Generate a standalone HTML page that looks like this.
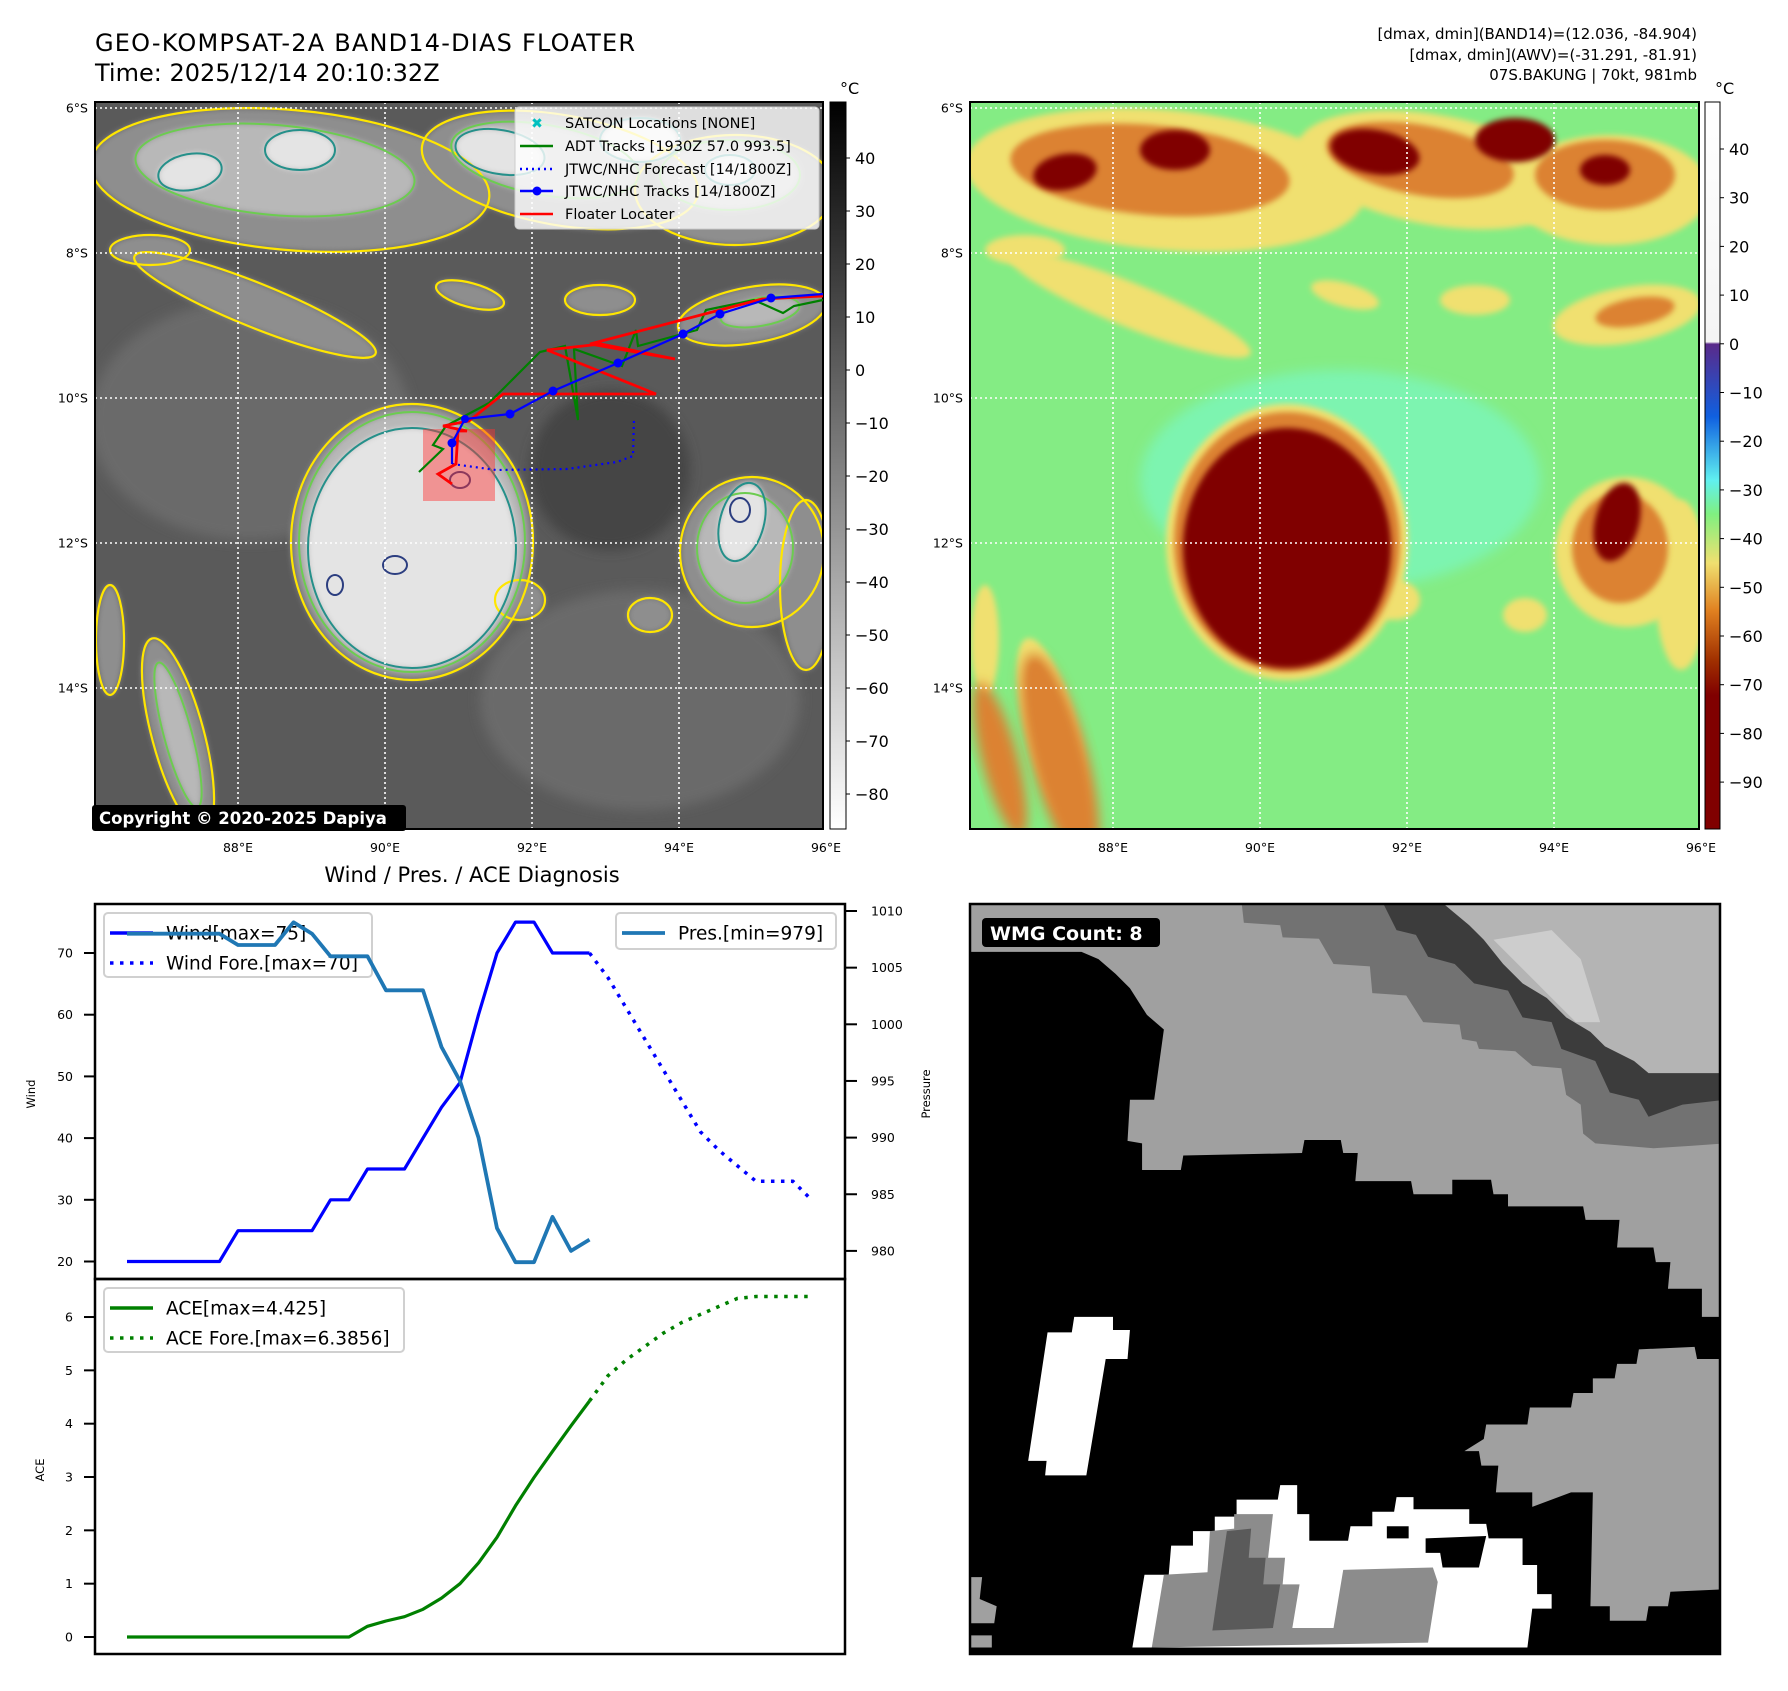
<!DOCTYPE html>
<html><head><meta charset="utf-8">
<style>
html,body{margin:0;padding:0;background:#fff;}
svg{display:block;font-family:"DejaVu Sans","Liberation Sans",sans-serif;}
</style></head>
<body>
<svg id="root" width="1788" height="1691" viewBox="0 0 1788 1691" xmlns="http://www.w3.org/2000/svg">
<defs>
  <clipPath id="clip1"><rect x="95" y="102" width="728" height="727"/></clipPath>
  <clipPath id="clip2"><rect x="970" y="102" width="729" height="727"/></clipPath>
  <clipPath id="clip3"><rect x="970" y="904" width="750" height="750"/></clipPath>
  <filter id="blur2" x="-20%" y="-20%" width="140%" height="140%"><feGaussianBlur stdDeviation="6"/></filter>
  <filter id="blur1" x="-20%" y="-20%" width="140%" height="140%"><feGaussianBlur stdDeviation="3"/></filter>
  <linearGradient id="cb1" x1="0" y1="0" x2="0" y2="1">
    <stop offset="0" stop-color="#000"/><stop offset="1" stop-color="#fff"/>
  </linearGradient>
  <linearGradient id="cb2" x1="0" y1="0" x2="0" y2="1">
    <stop offset="0" stop-color="#ffffff"/><stop offset="0.33" stop-color="#f4f4f4"/>
    <stop offset="0.333" stop-color="#5a2a8a"/><stop offset="0.433" stop-color="#1060e0"/>
    <stop offset="0.52" stop-color="#60f0f0"/><stop offset="0.567" stop-color="#80f080"/>
    <stop offset="0.634" stop-color="#f0e070"/><stop offset="0.70" stop-color="#e08020"/>
    <stop offset="0.768" stop-color="#a03000"/><stop offset="0.816" stop-color="#800000"/>
    <stop offset="1" stop-color="#800000"/>
  </linearGradient>
</defs>

<text x="95" y="51" font-size="24" textLength="540">GEO-KOMPSAT-2A BAND14-DIAS FLOATER</text>
<text x="95" y="81" font-size="24">Time: 2025/12/14 20:10:32Z</text>
<g font-size="15" text-anchor="end">
  <text x="1697" y="39">[dmax, dmin](BAND14)=(12.036, -84.904)</text>
  <text x="1697" y="60">[dmax, dmin](AWV)=(-31.291, -81.91)</text>
  <text x="1697" y="80">07S.BAKUNG | 70kt, 981mb</text>
</g>

<g clip-path="url(#clip1)">
  <rect x="95" y="102" width="728" height="727" fill="#5a5a5a"/>
  <ellipse cx="250" cy="420" rx="160" ry="120" fill="#6a6a6a" filter="url(#blur2)"/>
  <ellipse cx="640" cy="700" rx="160" ry="110" fill="#6a6a6a" filter="url(#blur2)"/>
  <ellipse cx="610" cy="470" rx="80" ry="80" fill="#444" filter="url(#blur2)"/>
  <g id="m1clouds"></g>
</g>
<g clip-path="url(#clip2)">
  <rect x="970" y="102" width="729" height="727" fill="#84ec84"/>
  <ellipse cx="1340" cy="480" rx="200" ry="110" fill="#7df4b0" filter="url(#blur2)"/>
  <g id="m2clouds"></g>
</g>
<g id="grids"></g>
<rect x="95" y="102" width="728" height="727" fill="none" stroke="#000" stroke-width="2"/>
<rect x="970" y="102" width="729" height="727" fill="none" stroke="#000" stroke-width="2"/>

<g clip-path="url(#clip1)">
  <rect x="423" y="429" width="72" height="72" fill="#ff3030" fill-opacity="0.45"/>
  <polyline fill="none" stroke="#008000" stroke-width="2.2" points="419,472 443,449 433,445 446,426 489,403 540,352 565,346 578,420 574,349 622,366 636,330 638,346 697,330 706,310 754,300 783,313 794,306 823,300"/>
  <polyline fill="none" stroke="#0000ff" stroke-width="2.2" stroke-dasharray="2,4" points="452,464 467,466 496,470 567,469 617,462 633,456 634,418"/>
  <polyline fill="none" stroke="#ff0000" stroke-width="2.8" points="452,484 438,474 456,464 458,431 467,431 443,426 469,421 503,394 656,394 547,350 601,344 675,359 590,344 762,299 823,296"/>
  <polyline fill="none" stroke="#0000ff" stroke-width="2.2" points="452,464 452,443 465,419 510,414 553,391 618,363 683,334 720,314 771,298 823,294"/>
  <g fill="#0000ff"><circle cx="452" cy="443" r="4.5"/><circle cx="465" cy="419" r="4"/><circle cx="510" cy="414" r="4.5"/><circle cx="553" cy="391" r="4.5"/><circle cx="618" cy="363" r="4.5"/><circle cx="683" cy="334" r="4.5"/><circle cx="720" cy="314" r="4.5"/><circle cx="771" cy="298" r="4.5"/></g>
</g>

<g>
  <rect x="515" y="107" width="304" height="122" rx="4" fill="#ffffff" fill-opacity="0.8" stroke="#cccccc"/>
  <g font-size="14.5" fill="#000">
    <text x="537" y="128" fill="#00c0c0" font-weight="bold" text-anchor="middle" font-size="14">✖</text>
    <text x="565" y="128">SATCON Locations [NONE]</text>
    <line x1="520" y1="146" x2="553" y2="146" stroke="#008000" stroke-width="2.5"/>
    <text x="565" y="151">ADT Tracks [1930Z 57.0 993.5]</text>
    <line x1="520" y1="169" x2="553" y2="169" stroke="#0000ff" stroke-width="2.5" stroke-dasharray="2,4"/>
    <text x="565" y="174">JTWC/NHC Forecast [14/1800Z]</text>
    <line x1="520" y1="191" x2="553" y2="191" stroke="#0000ff" stroke-width="2.5"/>
    <circle cx="537" cy="191" r="4.5" fill="#0000ff"/>
    <text x="565" y="196">JTWC/NHC Tracks [14/1800Z]</text>
    <line x1="520" y1="214" x2="553" y2="214" stroke="#ff0000" stroke-width="2.5"/>
    <text x="565" y="219">Floater Locater</text>
  </g>
</g>

<rect x="92" y="805" width="314" height="26" rx="3" fill="#000"/>
<text x="99" y="824" font-size="16.5" font-weight="bold" fill="#fff">Copyright © 2020-2025 Dapiya</text>

<rect x="830" y="102" width="16" height="727" fill="url(#cb1)" stroke="#000" stroke-width="1"/>
<text x="840" y="94" font-size="16">°C</text>
<g id="cb1ticks" font-size="16"></g>
<rect x="1705" y="102" width="15" height="727" fill="url(#cb2)" stroke="#000" stroke-width="1"/>
<text x="1715" y="94" font-size="16">°C</text>
<g id="cb2ticks" font-size="16"></g>

<text x="472" y="882" font-size="21" text-anchor="middle">Wind / Pres. / ACE Diagnosis</text>
<g id="chart"></g>

<g clip-path="url(#clip3)">
  <rect x="970" y="904" width="750" height="750" fill="#000"/>
  <g transform="translate(970,901) scale(0.4847)">
    <polygon fill="#a0a0a0" points="0,0 1560,0 1560,858 1510,858 1510,800 1440,800 1445,745 1415,745 1410,715 1335,715 1340,658 1270,658 1265,630 1110,630 1110,605 1080,605 1075,575 995,575 995,605 915,605 910,578 795,578 800,520 770,520 765,493 690,493 685,520 440,525 435,555 355,555 355,500 325,495 330,410 380,410 400,265 365,235 330,180 300,150 265,120 230,105 0,105"/>
    <polygon fill="#727272" points="560,0 1560,0 1560,500 1490,505 1410,510 1290,500 1265,480 1260,420 1230,400 1220,345 1160,340 1125,310 1050,305 1045,290 1015,285 1010,255 935,250 900,195 830,190 825,135 750,130 720,78 645,75 640,50 565,45"/>
    <polygon fill="#3c3c3c" points="850,0 1560,0 1560,410 1470,420 1400,445 1380,410 1320,395 1290,330 1220,305 1200,250 1140,240 1110,185 1040,170 1000,130 945,115 920,70 880,60"/>
    <polygon fill="#b4b4b4" points="970,0 1560,0 1560,355 1400,355 1370,330 1310,300 1280,270 1230,240 1190,200 1140,170 1100,130 1060,80 1030,50"/>
    <polygon fill="#cdcdcd" points="1080,80 1200,60 1260,120 1300,250 1250,250 1180,180"/>
    <polygon fill="#fff" points="160,890 210,890 215,858 295,858 295,885 330,885 325,945 280,945 240,1185 155,1185 158,1155 120,1155"/>
    <polygon fill="#a0a0a0" points="1020,1135 1060,1110 1065,1080 1150,1080 1155,1045 1240,1045 1245,1015 1285,1015 1285,985 1330,985 1335,955 1375,955 1380,925 1495,920 1500,945 1560,945 1560,1420 1445,1425 1440,1455 1400,1455 1395,1485 1320,1485 1320,1455 1280,1455 1285,1220 1240,1220 1160,1250 1160,1220 1085,1220 1090,1165 1055,1165 1050,1135"/>
    <polygon fill="#fff" points="335,1540 360,1390 410,1390 415,1330 460,1330 460,1300 505,1300 505,1270 550,1270 550,1235 635,1235 640,1205 675,1205 675,1265 700,1265 700,1320 780,1320 785,1290 830,1290 830,1260 875,1260 880,1230 915,1230 915,1255 1030,1255 1030,1285 1065,1285 1070,1315 1140,1315 1140,1370 1170,1370 1170,1430 1200,1430 1200,1460 1160,1460 1150,1540"/>
    <rect x="860" y="1290" width="45" height="25" fill="#000"/>
    <polygon fill="#000" points="940,1315 1065,1310 1050,1375 975,1375 970,1345 940,1345"/>
    <polygon fill="#8c8c8c" points="375,1540 400,1390 490,1385 495,1300 545,1295 545,1265 625,1265 615,1355 650,1355 645,1410 680,1410 665,1500 750,1500 770,1380 955,1375 965,1405 945,1530 375,1540"/>
    <polygon fill="#5a5a5a" points="500,1505 530,1300 580,1295 575,1355 610,1355 605,1410 640,1410 625,1500"/>
    <polygon fill="#a0a0a0" points="0,1395 25,1395 20,1440 55,1455 50,1490 0,1490"/>
    <polygon fill="#a0a0a0" points="0,1515 45,1515 45,1540 0,1540"/>
  </g>
</g>
<rect x="970" y="904" width="750" height="750" fill="none" stroke="#000" stroke-width="2.5"/>
<rect x="982" y="918" width="178" height="29" rx="4" fill="#000"/>
<text x="990" y="940" font-size="19" font-weight="bold" fill="#fff">WMG Count: 8</text>

<script>
const windObs = [20,20,20,20,20,20,25,25,25,25,25,30,30,35,35,35,40,45,49,60,70,75,75,70,70,70];
const windFcst = [70,66,61,56,51,46,41,38,35.5,33,33,33,30];
const presObs = [1008,1008,1008,1008,1008,1008,1007,1007,1007,1009,1008,1006,1006,1006,1003,1003,1003,998,995,990,982,979,979,983,980,981];
const aceObs = [0,0,0,0,0,0,0,0,0,0,0,0,0,0.2,0.3,0.38,0.52,0.73,1.0,1.39,1.87,2.46,2.99,3.48,3.96,4.425];
const aceFcst = [4.425,4.9,5.2,5.45,5.7,5.9,6.05,6.2,6.35,6.3856,6.3856,6.3856,6.3856];
const windTicks = [20,30,40,50,60,70];
const presTicks = [980,985,990,995,1000,1005,1010];
const aceTicks = [0,1,2,3,4,5,6];
const fcstStart = 25;

const NS = 'http://www.w3.org/2000/svg';
function mk(tag, attrs, parent){ const e=document.createElementNS(NS,tag); for(const k in attrs) e.setAttribute(k,attrs[k]); parent.appendChild(e); return e; }

const xS = i => 127 + i*18.5;
const yWind = v => 953 - (v-70)*6.17;
const yPres = p => 911 + (1010-p)*11.33;
const yAce = a => 1637 - a*53.33;

const chart = document.getElementById('chart');
function series(vals, off, yf, color, w, dash, name){
  const pts = vals.map((v,i)=> xS(i+off).toFixed(1)+','+yf(v).toFixed(1)).join(' ');
  const a = {points:pts, fill:'none', stroke:color, 'stroke-width':w, 'stroke-linejoin':'round'};
  if(dash) a['stroke-dasharray']=dash;
  const el = mk('polyline', a, chart);
  
  
}
const f1 = mk('rect',{x:95,y:904,width:750,height:375,fill:'none',stroke:'#000','stroke-width':2.5},chart);


const f2 = mk('rect',{x:95,y:1279,width:750,height:375,fill:'none',stroke:'#000','stroke-width':2.5},chart);



windTicks.forEach(v=>{
  const y=yWind(v);
  mk('line',{x1:84,y1:y,x2:95,y2:y,stroke:'#000','stroke-width':2},chart);
  const t=mk('text',{x:73,y:y+4.5,'font-size':12.5,'text-anchor':'end'},chart); t.textContent=v;
  
  
});
presTicks.forEach(v=>{
  const y=yPres(v);
  mk('line',{x1:845,y1:y,x2:857,y2:y,stroke:'#000','stroke-width':2},chart);
  const t=mk('text',{x:871,y:y+4.5,'font-size':12.5},chart); t.textContent=v;
  
  
});
aceTicks.forEach(v=>{
  const y=yAce(v);
  mk('line',{x1:84,y1:y,x2:95,y2:y,stroke:'#000','stroke-width':2},chart);
  const t=mk('text',{x:73,y:y+4.5,'font-size':12.5,'text-anchor':'end'},chart); t.textContent=v;
  
  
});
const yl1=mk('text',{x:0,y:0,'font-size':11.5,'text-anchor':'middle',transform:'translate(35,1094) rotate(-90)'},chart); yl1.textContent='Wind';


const yl2=mk('text',{x:0,y:0,'font-size':11.5,'text-anchor':'middle',transform:'translate(930,1094) rotate(-90)'},chart); yl2.textContent='Pressure';


const yl3=mk('text',{x:0,y:0,'font-size':11.5,'text-anchor':'middle',transform:'translate(44,1470) rotate(-90)'},chart); yl3.textContent='ACE';



series(windObs,0,yWind,'#0000ff',3.2,null,'wind-line');
series(windFcst,fcstStart,yWind,'#0000ff',3.5,'3.5,6.5','wind-forecast-line');
series(aceObs,0,yAce,'#008000',3.2,null,'ace-line');
series(aceFcst,fcstStart,yAce,'#008000',3.5,'3.5,6.5','ace-forecast-line');

function legend(x,y,w,h,entries,name){
  const g=mk('g',{},chart);
  
  
  mk('rect',{x:x,y:y,width:w,height:h,rx:4,fill:'#fff','fill-opacity':0.8,stroke:'#d0d0d0','stroke-width':2},g);
  entries.forEach((e,k)=>{
    const cy=y+20+k*30;
    const a={x1:x+6,y1:cy,x2:x+49,y2:cy,stroke:e.c,'stroke-width':e.w};
    if(e.d) a['stroke-dasharray']=e.d;
    mk('line',a,g);
    const t=mk('text',{x:x+62,y:cy+6.5,'font-size':18.5},g); t.textContent=e.t;
  });
}
legend(104,913,268,64,[{c:'#0000ff',w:3.5,t:'Wind[max=75]'},{c:'#0000ff',w:3.5,d:'3.5,6.5',t:'Wind Fore.[max=70]'}],'wind-legend');
series(presObs,0,yPres,'#1f77b4',3.8,null,'pressure-line');
legend(616,913,220,36,[{c:'#1f77b4',w:3.8,t:'Pres.[min=979]'}],'pressure-legend');
legend(104,1288,300,64,[{c:'#008000',w:3.5,t:'ACE[max=4.425]'},{c:'#008000',w:3.5,d:'3.5,6.5',t:'ACE Fore.[max=6.3856]'}],'ace-legend');

const cb1Vals=[40,30,20,10,0,-10,-20,-30,-40,-50,-60,-70,-80];
const cb2Vals=[40,30,20,10,0,-10,-20,-30,-40,-50,-60,-70,-80,-90];
const cbg1=document.getElementById('cb1ticks');
cb1Vals.forEach(v=>{const y=158+(40-v)*5.3;
  mk('line',{x1:846,y1:y,x2:850,y2:y,stroke:'#000'},cbg1);
  const t=mk('text',{x:855,y:y+6},cbg1); t.textContent=(v<0?'\u2212'+(-v):v);
  
  });
const cbg2=document.getElementById('cb2ticks');
cb2Vals.forEach(v=>{const y=149+(40-v)*4.87;
  mk('line',{x1:1720,y1:y,x2:1724,y2:y,stroke:'#000'},cbg2);
  const t=mk('text',{x:1729,y:y+6},cbg2); t.textContent=(v<0?'\u2212'+(-v):v);
  
  });

const grids=document.getElementById('grids');
const lons=[88,90,92,94,96], lats=[6,8,10,12,14];
[0,875].forEach((dx,m)=>{
  lons.forEach(lo=>{const x=238+(lo-88)*73.5+dx;
    mk('line',{x1:x,y1:102,x2:x,y2:829,stroke:'#fff','stroke-width':1.6,'stroke-dasharray':'2,3'},grids);
    const t=mk('text',{x:x,y:852,'font-size':12.5,'text-anchor':'middle'},grids); t.textContent=lo+'°E';
    
    });
  lats.forEach(la=>{const y=108+(la-6)*72.5;
    mk('line',{x1:95+dx,y1:y,x2:823+dx+(m?1:0),y2:y,stroke:'#fff','stroke-width':1.6,'stroke-dasharray':'2,3'},grids);
    const t=mk('text',{x:88+dx,y:y+4.5,'font-size':12.5,'text-anchor':'end'},grids); t.textContent=la+'°S';
    
    });
});

// cloud imagery approximation
const L1=[[290,180,200,70,5],[560,170,140,55,10],[735,190,100,55,0],[255,305,130,22,22],[412,542,121,138,0],[752,552,72,75,0],[806,585,26,85,0],[178,735,26,100,-15],[752,315,75,28,-10],[110,640,14,55,0],[470,295,35,12,15],[600,300,35,15,0],[520,600,25,20,0],[650,615,22,17,0],[150,250,40,15,0]];
const L2=[[275,170,140,45,5],[545,160,95,35,10],[730,175,70,35,0],[412,542,113,130,0],[745,548,48,55,0],[178,735,14,75,-15],[760,312,40,14,-10]];
const L3=[[190,172,32,18,-10],[300,150,35,20,0],[500,152,45,22,10],[640,140,40,22,0],[412,548,104,120,0],[742,522,22,40,15],[730,170,25,15,0]];
const m1=document.getElementById('m1clouds'), m2=document.getElementById('m2clouds');
function layer(arr,g,dx,fill,stroke,sw,blur){
  arr.forEach(c=>{
    const a={cx:c[0]+dx,cy:c[1],rx:c[2],ry:c[3],transform:`rotate(${c[4]} ${c[0]+dx} ${c[1]})`,fill:fill};
    if(stroke){a.stroke=stroke;a['stroke-width']=sw;}
    if(blur) a.filter='url(#'+blur+')';
    const e=mk('ellipse',a,g);
    
    
  });
}
layer(L1,m1,0,'#8e8e8e',null,0,'blur1');
layer(L2,m1,0,'#b8b8b8',null,0,'blur1');
layer(L3,m1,0,'#e4e4e4',null,0,'blur1');
layer(L1,m1,0,'none','#ffe600',2.2,null);
layer(L2,m1,0,'none','#6ccc50',2,null);
layer(L3,m1,0,'none','#25908a',2,null);
layer([[335,585,8,10,0],[395,565,12,9,0],[460,480,10,8,0],[740,510,10,12,0]],m1,0,'none','#2c3e80',2,null);
layer(L1,m2,875,'#f0e070',null,0,'blur1');
layer(L2,m2,875,'#dc8232',null,0,'blur1');
layer(L3,m2,875,'#800000',null,0,'blur1');
layer([[1060,760,28,110,-15],[1000,760,18,80,-15]],m2,0,'#dc8232',null,0,'blur2');
</script>
</svg>
</body></html>
